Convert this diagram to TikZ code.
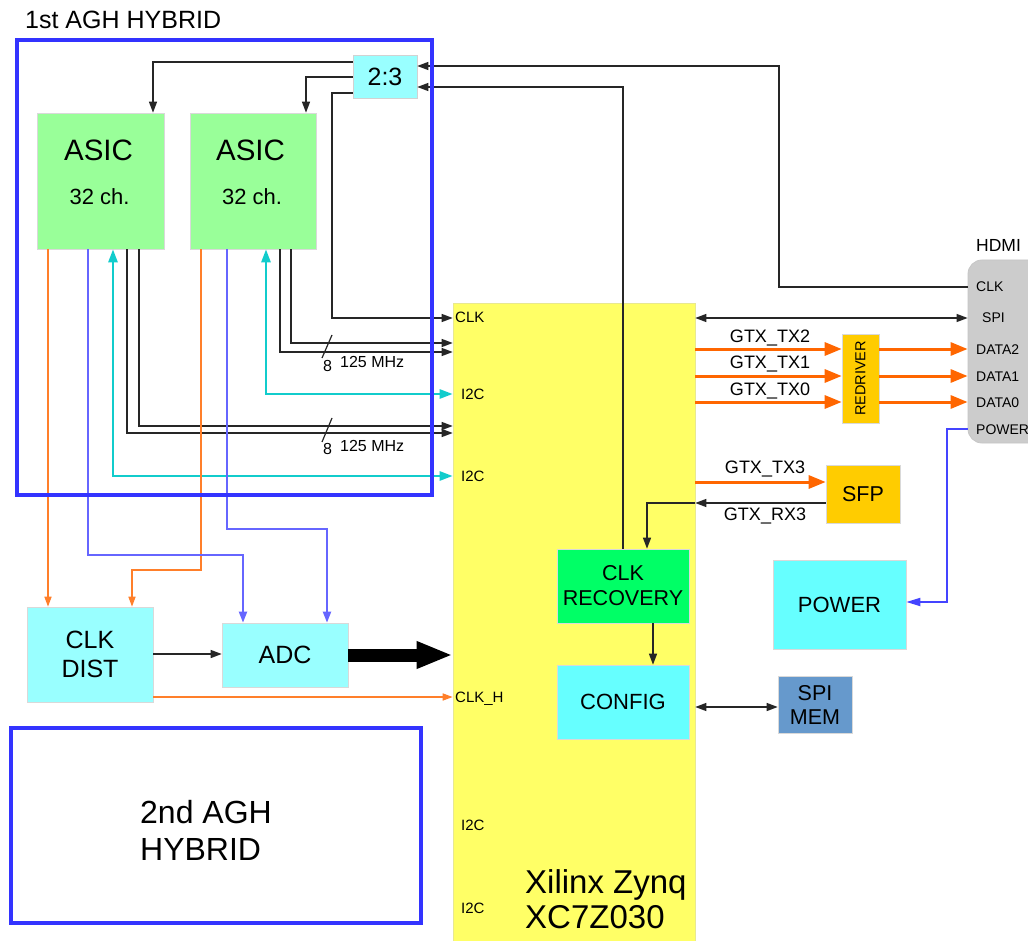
\documentclass[tikz,border=0pt]{standalone}
\usepackage{fontspec}
\setmainfont{Liberation Sans}
\usetikzlibrary{arrows.meta}
\definecolor{zynqY}{HTML}{FFFF66}
\definecolor{zynqB}{HTML}{E8E890}
\definecolor{cyL}{HTML}{99FFFF}
\definecolor{cyM}{HTML}{66FFFF}
\definecolor{asG}{HTML}{99FF99}
\definecolor{clG}{HTML}{00FF66}
\definecolor{sfO}{HTML}{FFCC00}
\definecolor{smB}{HTML}{6699CC}
\definecolor{hdG}{HTML}{CCCCCC}
\definecolor{orT}{HTML}{FF6600}
\definecolor{orS}{HTML}{FF7F2A}
\definecolor{cyA}{HTML}{11CCCC}
\definecolor{purp}{HTML}{6666FF}
\definecolor{fblue}{HTML}{3333FF}
\definecolor{pblue}{HTML}{4444FF}
\begin{document}
\begin{tikzpicture}[x=1pt,y=-1pt,
  fs/.style 2 args={font=\fontsize{#1}{#2}\selectfont},
  bx/.style={draw=#1, line width=0.6pt, inner sep=0pt, align=center},
  blk/.style={draw=black!85, line width=1.3pt, >={Triangle[length=11pt,width=8pt]}},
  gtx/.style={draw=orT, line width=3pt, >={Triangle[length=17pt,width=13pt]}},
  orl/.style={draw=orS, line width=1.5pt, >={Triangle[length=10pt,width=7pt]}},
  pur/.style={draw=purp, line width=2pt, >={Triangle[length=11pt,width=8pt]}},
  cya/.style={draw=cyA, line width=2.5pt, >={Triangle[length=13pt,width=9pt]}},
  pwr/.style={draw=pblue, line width=1.8pt, >={Triangle[length=14pt,width=8pt]}},
  lbl/.style={fs={14}{16}, anchor=base west, inner sep=0pt},
  zlbl/.style={fs={15}{17}, anchor=base west, inner sep=0pt},
  gtxl/.style={fs={18}{20}, anchor=base, inner sep=0pt},
  frame/.style={draw=fblue, line width=4pt, inner sep=0pt}]
\useasboundingbox (0,0) rectangle (1028,941);
\fill[white] (0,0) rectangle (1028,941);

% ---------- boxes ----------
\node[bx=zynqB, fill=zynqY, minimum width=242pt, minimum height=642pt] (zynq) at (574,624) {};
\node[bx=gray!35, fill=cyL, minimum width=64pt, minimum height=43pt, fs={25}{30}] (two3) at (385,76.5) {2:3};
\node[bx=gray!30, fill=asG, minimum width=127pt, minimum height=136pt] (asic1) at (100.5,181) {};
\node[bx=gray!30, fill=asG, minimum width=126pt, minimum height=136pt] (asic2) at (253,181) {};
\node[anchor=base, fs={29.5}{34}, inner sep=0pt] (asic1t) at (98.5,160.5) {ASIC};
\node[anchor=base, fs={22}{26}, inner sep=0pt] (asic1c) at (99.5,205) {32 ch.};
\node[anchor=base, fs={29.5}{34}, inner sep=0pt] (asic2t) at (250.5,160.5) {ASIC};
\node[anchor=base, fs={22}{26}, inner sep=0pt] (asic2c) at (252,205) {32 ch.};

\node[bx=gray!30, fill=cyL, minimum width=126pt, minimum height=95pt, fs={25}{29}] (clkdist) at (90,654.5) {CLK\\DIST};
\node[bx=gray!30, fill=cyL, minimum width=126pt, minimum height=64pt, fs={25}{29}] (adc) at (285,655) {ADC};
\node[bx=gray!30, fill=clG, minimum width=132pt, minimum height=74pt, fs={21.5}{25}] (clkrec) at (623,586) {CLK\\RECOVERY};
\node[bx=gray!30, fill=cyM, minimum width=132pt, minimum height=74pt, fs={22}{25}] (config) at (623,702) {CONFIG};
\node[bx=gray!30, fill=smB, minimum width=74pt, minimum height=57pt, fs={21.5}{24}] (spimem) at (815,704.5) {SPI\\MEM};
\node[bx=gray!30, fill=cyM, minimum width=133pt, minimum height=89pt, fs={22}{25}] (power) at (839.5,604.5) {POWER};
\node[bx=gray!30, fill=sfO, minimum width=74pt, minimum height=58pt, fs={21.5}{25}] (sfp) at (863,494) {SFP};
\node[bx=gray!30, fill=sfO, minimum width=37pt, minimum height=89pt] (red) at (860.5,378.5) {};
\node[rotate=90, fs={14.5}{17}, inner sep=0pt] (redt) at (red.center) {REDRIVER};
\node[draw=gray!45, line width=0.8pt, fill=hdG, rounded corners=14pt, minimum width=100pt, minimum height=183pt, inner sep=0pt] (hdmi) at (1018,351.5) {};

% ---------- texts ----------
\node[anchor=base west, fs={25}{29}, inner sep=0pt] (title1) at (25,29) {1st AGH HYBRID};
\node[anchor=base west, fs={32}{36}, inner sep=0pt] (t2a) at (140,823) {2nd AGH};
\node[anchor=base west, fs={32}{36}, inner sep=0pt] (t2b) at (140,860) {HYBRID};
\node[anchor=base west, fs={33}{36}, inner sep=0pt] (zy1) at (525,893) {Xilinx Zynq};
\node[anchor=base west, fs={33}{36}, inner sep=0pt] (zy2) at (525,928) {XC7Z030};
\node[anchor=base west, fs={17.5}{20}, inner sep=0pt] (hdmit) at (976,252) {HDMI};

\node[zlbl] (zclk) at (455,323) {CLK};
\node[zlbl] (zi2a) at (461,399) {I2C};
\node[zlbl] (zi2b) at (461,481) {I2C};
\node[zlbl] (zclkh) at (455,702) {CLK\_H};
\node[zlbl] (zi2c) at (461,830) {I2C};
\node[zlbl] (zi2d) at (461,913) {I2C};

\node[lbl] (hclk) at (976,292) {CLK};
\node[lbl] (hspi) at (982,323) {SPI};
\node[lbl] (hd2) at (976,354) {DATA2};
\node[lbl] (hd1) at (976,381) {DATA1};
\node[lbl] (hd0) at (976,407) {DATA0};
\node[lbl] (hpw) at (976,434) {POWER};

\node[gtxl] (g2) at (770,342.5) {GTX\_TX2};
\node[gtxl] (g1) at (770,368) {GTX\_TX1};
\node[gtxl] (g0) at (770,395) {GTX\_TX0};
\node[gtxl] (g3) at (765,473) {GTX\_TX3};
\node[gtxl] (gr3) at (765,520) {GTX\_RX3};

\node[fs={16}{18}, anchor=base west, inner sep=0pt] (m8a) at (323,371) {8};
\node[fs={16}{18}, anchor=base west, inner sep=0pt] (mhza) at (340,367) {125 MHz};
\node[fs={16}{18}, anchor=base west, inner sep=0pt] (m8b) at (323,454) {8};
\node[fs={16}{18}, anchor=base west, inner sep=0pt] (mhzb) at (340,451) {125 MHz};

% ---------- connectors ----------
% 2:3 splitter
\draw[blk,->] (two3.west |- 0,62) -| (153,0 |- asic1.north);
\draw[blk,->] (two3.west |- 0,77) -| (306,0 |- asic2.north);
\draw[blk,->] (two3.west |- 0,93) -| (332,318) -- (zynq.west |- 0,318);
\draw[blk,->] (hdmi.west |- 0,287) -| (779,66) -- (two3.east |- 0,66);
\draw[blk,->] (623,0 |- clkrec.north) |- (two3.east |- 0,87);

% ASIC data lines
\draw[blk,->] (280,0 |- asic2.south) |- (zynq.west |- 0,352);
\draw[blk,->] (291,0 |- asic2.south) |- (zynq.west |- 0,343);
\draw[blk,->] (127,0 |- asic1.south) |- (zynq.west |- 0,433);
\draw[blk,->] (139,0 |- asic1.south) |- (zynq.west |- 0,426);
\draw[black!85, line width=1.2pt] (322,358) -- (332,335);
\draw[black!85, line width=1.2pt] (322,442) -- (332,418);

% I2C
\draw[cya,<->] (266,0 |- asic2.south) |- (zynq.west |- 0,394);
\draw[cya,<->] (113,0 |- asic1.south) |- (zynq.west |- 0,476);

% clocks to CLK DIST
\draw[orl,->] (48,0 |- asic1.south) -- (48,0 |- clkdist.north);
\draw[orl,->] (201,0 |- asic2.south) |- (132,570) -- (132,0 |- clkdist.north);

% analog to ADC
\draw[pur,->] (88,0 |- asic1.south) |- (243,555) -- (243,0 |- adc.north);
\draw[pur,->] (227,0 |- asic2.south) |- (327,529) -- (327,0 |- adc.north);

% CLK DIST / ADC
\draw[blk,->] (clkdist.east |- 0,654) -- (adc.west |- 0,654);
\draw[orl,->] (clkdist.east |- 0,697) -- (zynq.west |- 0,697);
\draw[line width=13pt, -{Triangle[length=36pt,width=25pt]}] (adc.east |- 0,655) -- (zynq.west |- 0,655);

% right side
\draw[blk,<->] (zynq.east |- 0,318) -- (hdmi.west |- 0,318);
\draw[gtx,->] (zynq.east |- 0,349) -- (red.west |- 0,349);
\draw[gtx,->] (zynq.east |- 0,376) -- (red.west |- 0,376);
\draw[gtx,->] (zynq.east |- 0,402) -- (red.west |- 0,402);
\draw[gtx,->] (red.east |- 0,349) -- (hdmi.west |- 0,349);
\draw[gtx,->] (red.east |- 0,376) -- (hdmi.west |- 0,376);
\draw[gtx,->] (red.east |- 0,402) -- (hdmi.west |- 0,402);
\draw[gtx,->] (zynq.east |- 0,482) -- (sfp.west |- 0,482);
\coordinate (rxin) at (zynq.east |- 0,503);
\draw[blk,->] (sfp.west |- 0,503) -- (rxin);
\draw[blk,->] (rxin) -| (647,0 |- clkrec.north);
\draw[blk,->] (653,0 |- clkrec.south) -- (653,0 |- config.north);
\draw[blk,<->] (zynq.east |- 0,707) -- (spimem.west |- 0,707);
\draw[pwr,->] (hdmi.west |- 0,429) -| (947,602) -- (power.east |- 0,602);

% ---------- hybrid frames (on top) ----------
\node[frame, minimum width=415pt, minimum height=455pt] (hyb1) at (224.5,267.5) {};
\node[frame, minimum width=410pt, minimum height=195pt] (hyb2) at (216,825.5) {};
\end{tikzpicture}
\end{document}
